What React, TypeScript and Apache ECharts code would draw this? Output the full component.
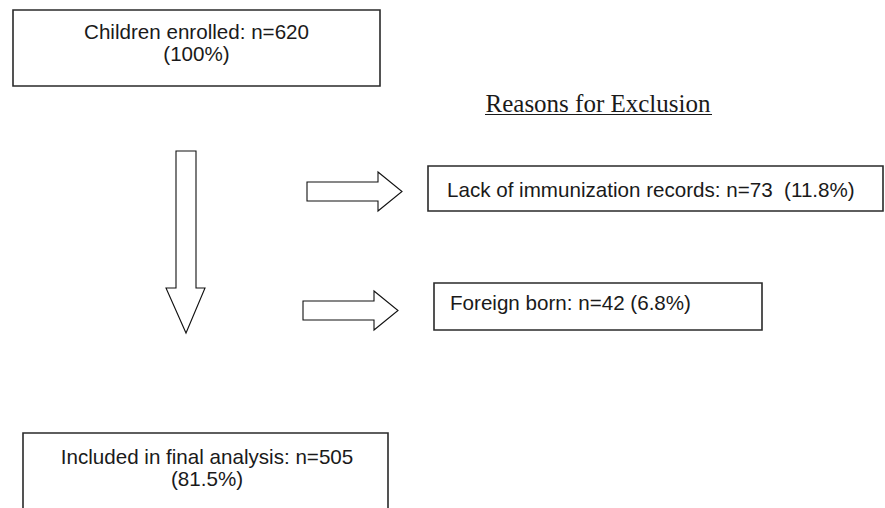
import React, { useEffect, useRef } from "react";
import * as echarts from "echarts";

const enrolled = { n: 620, pct: "100%" };
const exclusionLabels = ["Lack of immunization records", "Foreign born"];
const exclusionCounts = [73, 42];
const exclusionPcts = ["11.8%", "6.8%"];
const exclusionSep = ["  ", " "];
const included = { n: 505, pct: "81.5%" };
const sectionTitle = "Reasons for Exclusion";

const SANS = "'Liberation Sans', Arial, Helvetica, sans-serif";
const SERIF = "'Liberation Serif', 'Times New Roman', serif";
const INK = "#1a1a1a";
const FS = 20.6;

function rightArrow(x0: number, yc: number, x1: number, xh: number, sh: number, hh: number) {
  return [
    [x0, yc - sh],
    [xh, yc - sh],
    [xh, yc - hh],
    [x1, yc],
    [xh, yc + hh],
    [xh, yc + sh],
    [x0, yc + sh],
  ];
}

export default function App() {
  const ref = useRef<HTMLDivElement>(null);
  useEffect(() => {
    document.body.style.margin = "0";
    const chart = echarts.init(ref.current!, undefined, { renderer: "svg" });
    const boxStyle = { fill: "#fff", stroke: "#2a2a2a", lineWidth: 1.6 };
    const arrowStyle = { fill: "#fff", stroke: "#111", lineWidth: 1.1 };
    const txt = (x: number, y: number, s: string, align: string = "center", font = SANS, size = FS) => ({
      type: "text",
      x,
      y,
      z: 10,
      style: {
        text: s,
        x: 0,
        y: 0,
        fill: INK,
        font: `${size}px ${font}`,
        textAlign: align,
        textVerticalAlign: "middle",
      },
    });
    const elements: any[] = [
      { type: "rect", shape: { x: 13, y: 10, width: 367, height: 76 }, style: boxStyle },
      { type: "rect", shape: { x: 428, y: 166, width: 455, height: 45 }, style: boxStyle },
      { type: "rect", shape: { x: 434, y: 283, width: 328, height: 47 }, style: boxStyle },
      { type: "rect", shape: { x: 23, y: 433, width: 365, height: 90 }, style: boxStyle },
      {
        type: "polygon",
        shape: {
          points: [
            [176, 151],
            [196, 151],
            [196, 288],
            [205, 288],
            [186, 333],
            [166, 288],
            [176, 288],
          ],
        },
        style: arrowStyle,
      },
      { type: "polygon", shape: { points: rightArrow(307, 191.5, 402, 378, 9.5, 19.5) }, style: arrowStyle },
      { type: "polygon", shape: { points: rightArrow(303, 310.5, 398, 374, 9.5, 19.5) }, style: arrowStyle },
      txt(196.5, 31, `Children enrolled: n=${enrolled.n}`),
      txt(196.5, 53, `(${enrolled.pct})`),
      txt(598, 103, sectionTitle, "center", SERIF, 25),
      { type: "line", shape: { x1: 485, y1: 114.5, x2: 712, y2: 114.5 }, style: { stroke: INK, lineWidth: 1.2 } },
      txt(447, 189, `${exclusionLabels[0]}: n=${exclusionCounts[0]}${exclusionSep[0]}(${exclusionPcts[0]})`, "left"),
      txt(450, 302, `${exclusionLabels[1]}: n=${exclusionCounts[1]}${exclusionSep[1]}(${exclusionPcts[1]})`, "left"),
      txt(207, 456, `Included in final analysis: n=${included.n}`),
      txt(207, 478, `(${included.pct})`),
    ];
    chart.setOption({
      animation: false,
      backgroundColor: "#ffffff",
      graphic: { elements },
    });
    return () => chart.dispose();
  }, []);
  return <div ref={ref} style={{ width: 885, height: 508, position: "absolute", left: 0, top: 0 }} />;
}
